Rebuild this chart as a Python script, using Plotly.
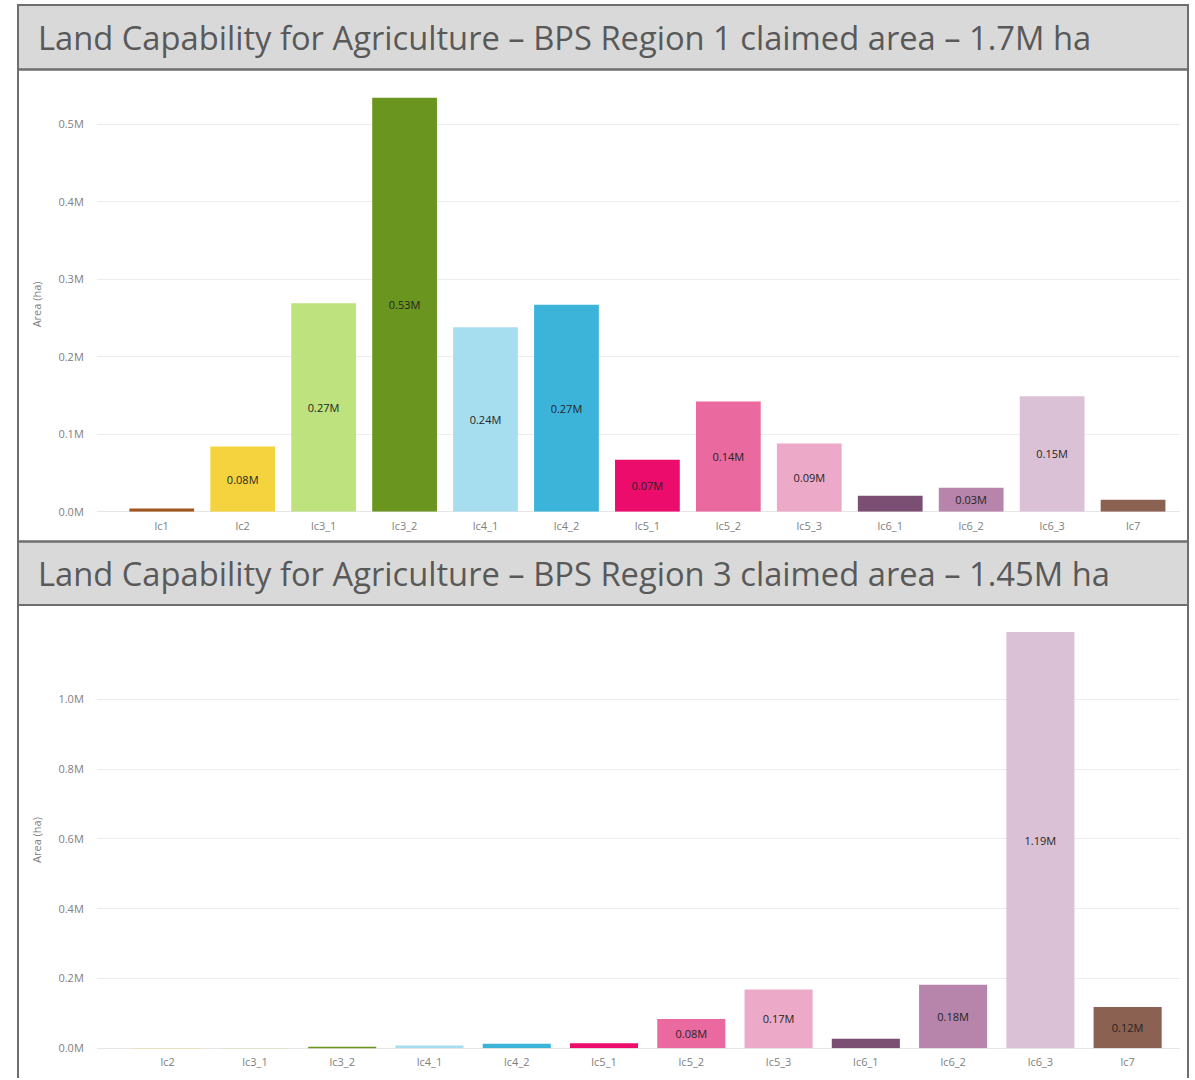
import plotly.graph_objects as go

# ---------------- data ----------------
r1_categories = ["lc1", "lc2", "lc3_1", "lc3_2", "lc4_1", "lc4_2", "lc5_1",
                 "lc5_2", "lc5_3", "lc6_1", "lc6_2", "lc6_3", "lc7"]
r1_values_m = [0.004, 0.084, 0.269, 0.534, 0.238, 0.267, 0.067,
               0.142, 0.088, 0.0205, 0.031, 0.149, 0.0155]

r3_categories = ["lc2", "lc3_1", "lc3_2", "lc4_1", "lc4_2", "lc5_1",
                 "lc5_2", "lc5_3", "lc6_1", "lc6_2", "lc6_3", "lc7"]
r3_values_m = [0.0003, 0.0008, 0.004, 0.008, 0.013, 0.014,
               0.084, 0.168, 0.027, 0.182, 1.194, 0.118]

colors = {
    "lc1": "#A0561F", "lc2": "#F5D33F", "lc3_1": "#BEE27D", "lc3_2": "#6A961F",
    "lc4_1": "#A6DEF0", "lc4_2": "#3CB4DA", "lc5_1": "#EC0C6C", "lc5_2": "#EA6AA0",
    "lc5_3": "#EDAAC8", "lc6_1": "#7B4F73", "lc6_2": "#B784AB", "lc6_3": "#DBC1D6",
    "lc7": "#8B6152",
}

titles = ["Land Capability for Agriculture \u2013 BPS Region 1 claimed area \u2013 1.7M ha",
          "Land Capability for Agriculture \u2013 BPS Region 3 claimed area \u2013 1.45M ha"]
y_tick_vals = [[0.0, 0.1, 0.2, 0.3, 0.4, 0.5], [0.0, 0.2, 0.4, 0.6, 0.8, 1.0]]
y_tick_text = [[f"{v:.1f}M" for v in tv] for tv in y_tick_vals]
label_min = [0.025, 0.05]

W, H = 1195, 1080
def px(x):
    return x / W
def py(y):
    return 1 - y / H

fig = go.Figure()

def labels(vals, thr):
    return [f"{v:.2f}M" if v >= thr else "" for v in vals]

fig.add_trace(go.Bar(
    x=r1_categories, y=r1_values_m,
    marker=dict(color=[colors[c] for c in r1_categories], line=dict(width=0)),
    width=0.8, text=labels(r1_values_m, label_min[0]),
    textposition="inside", insidetextanchor="middle", textangle=0,
    textfont=dict(size=11, color="#252423", family="Open Sans"),
    xaxis="x", yaxis="y", showlegend=False, hoverinfo="x+y"))

fig.add_trace(go.Bar(
    x=r3_categories, y=r3_values_m,
    marker=dict(color=[colors[c] for c in r3_categories], line=dict(width=0)),
    width=0.78, text=labels(r3_values_m, label_min[1]),
    textposition="inside", insidetextanchor="middle", textangle=0,
    textfont=dict(size=11, color="#252423", family="Open Sans"),
    xaxis="x2", yaxis="y2", showlegend=False, hoverinfo="x+y"))

tickfont = dict(size=11, color="#808080", family="Open Sans")

common_x = dict(showgrid=False, zeroline=False, showline=False, ticks="outside",
                ticklen=4, tickcolor="rgba(0,0,0,0)", tickfont=tickfont,
                type="category")
common_y = dict(showgrid=True, gridcolor="#ececec", gridwidth=1, zeroline=True,
                zerolinecolor="#e6e6e6", zerolinewidth=1, showline=False,
                ticks="outside", ticklen=10, tickcolor="rgba(0,0,0,0)",
                tickfont=tickfont, tickmode="array",
                title=dict(text="Area (ha)", font=dict(size=11, color="#808080",
                                                      family="Open Sans"), standoff=14))

fig.update_layout(
    width=W, height=H, margin=dict(l=0, r=0, t=0, b=0),
    paper_bgcolor="white", plot_bgcolor="white",
    xaxis=dict(common_x, domain=[px(97), px(1180)], anchor="y",
               range=[-0.80, 12.58]),
    yaxis=dict(common_y, domain=[py(515), py(97.7)], anchor="x",
               range=[0, 0.535], tickvals=y_tick_vals[0], ticktext=y_tick_text[0]),
    xaxis2=dict(common_x, domain=[px(97), px(1180)], anchor="y2",
                range=[-0.81, 11.6]),
    yaxis2=dict(common_y, domain=[py(1055), py(636)], anchor="x2",
                range=[0, 1.194], tickvals=y_tick_vals[1], ticktext=y_tick_text[1]),
)

frame = "#6e6e6e"
band = "#d9d9d9"
shapes = []
shapes.append(dict(type="rect", xref="paper", yref="paper", x0=px(18), x1=px(1188),
                   y0=py(70), y1=py(5), fillcolor=band, line=dict(color=frame, width=2), layer="below"))
shapes.append(dict(type="rect", xref="paper", yref="paper", x0=px(18), x1=px(1188),
                   y0=py(609), y1=py(545), fillcolor=band, line=dict(color=frame, width=2), layer="below"))
shapes.append(dict(type="rect", xref="paper", yref="paper", x0=px(18), x1=px(1188),
                   y0=py(545), y1=py(70), fillcolor="rgba(0,0,0,0)", line=dict(color=frame, width=2), layer="below"))
for xx in (18, 1188):
    shapes.append(dict(type="line", xref="paper", yref="paper", x0=px(xx), x1=px(xx),
                       y0=py(1085), y1=py(609), line=dict(color=frame, width=2), layer="below"))
fig.update_layout(shapes=shapes)

anns = []
for t, yc in zip(titles, (38, 577)):
    anns.append(dict(text=t, xref="paper", yref="paper", x=px(36), y=py(yc),
                     xanchor="left", yanchor="middle", showarrow=False,
                     font=dict(size=32.7, color="#595959", family="Open Sans")))
fig.update_layout(annotations=anns)

fig.write_html(
    "out.html",
    config=dict(displayModeBar=False),
    post_script="document.body.style.margin='0';document.body.style.overflow='hidden';",
)
